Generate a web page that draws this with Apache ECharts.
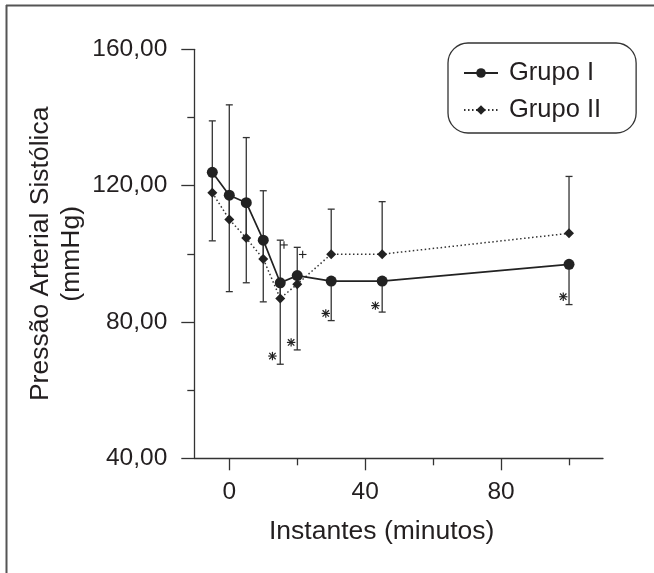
<!DOCTYPE html>
<html><head><meta charset="utf-8">
<script src="https://cdn.jsdelivr.net/npm/echarts@6/dist/echarts.min.js"></script>
<style>html,body{margin:0;padding:0;background:#fff}#c{width:654px;height:573px}</style>
</head><body><div id="c"></div>
<script>
// Instants (minutes)
const times = [-5, 0, 5, 10, 15, 20, 30, 45, 100];
// Means
const grupoI = [123.9, 117.2, 115.0, 104.0, 91.5, 93.6, 92.0, 92.0, 96.9];
const grupoII = [117.9, 110.1, 104.6, 98.5, 86.9, 91.1, 99.9, 99.9, 106.0];
// Error bar ends (Grupo I downward, Grupo II upward)
const grupoILower = [103.8, 88.9, 91.5, 85.9, 67.6, 71.8, 80.4, 82.9, 85.1];
const grupoIIUpper = [139.0, 143.7, 134.1, 118.5, 104.0, 101.9, 113.1, 115.3, 122.7];
// Significance markers
const asteriskX = [12.7, 18.2, 28.4, 43.0, 98.3];
const asteriskY = [70.0, 74.0, 82.5, 84.8, 87.4];
const plusX = [16.1, 21.6];
const plusY = [102.6, 99.8];
// Ticks
const xMajorTicks = [0, 40, 80];
const xMinorTicks = [20, 60, 100];
const yTickLabels = ['40,00', '80,00', '120,00', '160,00'];

const FONT = 'Liberation Sans, Arial, sans-serif';
const TXT = '#231f20';
const chart = echarts.init(document.getElementById('c'));

function errRender(params, api) {
  const x = api.value(0), m = api.value(1), b = api.value(2);
  const p1 = api.coord([x, m]), p2 = api.coord([x, b]);
  const hw = 3.5;
  const st = { stroke: '#333', lineWidth: 1.3 };
  return { type: 'group', children: [
    { type: 'line', shape: { x1: p1[0], y1: p1[1], x2: p2[0], y2: p2[1] }, style: st },
    { type: 'line', shape: { x1: p2[0] - hw, y1: p2[1], x2: p2[0] + hw, y2: p2[1] }, style: st }
  ]};
}
function starRender(params, api) {
  const p = api.coord([api.value(0), api.value(1)]);
  const r = 4.2, d = 3.2;
  const st = { stroke: '#222', lineWidth: 1.2 };
  const L = (x1, y1, x2, y2) => ({ type: 'line', shape: { x1: p[0] + x1, y1: p[1] + y1, x2: p[0] + x2, y2: p[1] + y2 }, style: st });
  return { type: 'group', children: [L(-r, 0, r, 0), L(0, -r, 0, r), L(-d, -d, d, d), L(-d, d, d, -d)] };
}
function plusRender(params, api) {
  const p = api.coord([api.value(0), api.value(1)]);
  const r = 3.8;
  const st = { stroke: '#222', lineWidth: 1.1 };
  const L = (x1, y1, x2, y2) => ({ type: 'line', shape: { x1: p[0] + x1, y1: p[1] + y1, x2: p[0] + x2, y2: p[1] + y2 }, style: st });
  return { type: 'group', children: [L(-r, 0, r, 0), L(0, -r, 0, r)] };
}

const yLabelMap = {40: yTickLabels[0], 80: yTickLabels[1], 120: yTickLabels[2], 160: yTickLabels[3]};

chart.setOption({
  backgroundColor: '#fff',
  animation: false,
  grid: { left: 194.3, top: 49.3, right: 51, bottom: 114.7, containLabel: false },
  xAxis: [{
    type: 'value', position: 'bottom', min: -10.3, max: 110,
    name: 'Instantes (minutos)', nameLocation: 'middle', nameGap: 60,
    nameTextStyle: { fontFamily: FONT, fontSize: 26.5, color: TXT, padding: [0, 34, 0, 0] },
    axisLine: { show: true, onZero: false, lineStyle: { color: '#333', width: 1.3 } },
    axisTick: { show: true, customValues: xMajorTicks, length: 12, lineStyle: { color: '#333', width: 1.3 } },
    axisLabel: { show: true, customValues: xMajorTicks, margin: 21, fontFamily: FONT, fontSize: 24.5, color: TXT },
    splitLine: { show: false }
  }, {
    type: 'value', position: 'bottom', min: -10.3, max: 110,
    axisLine: { show: false, onZero: false },
    axisTick: { show: true, customValues: xMinorTicks, length: 7, lineStyle: { color: '#333', width: 1.3 } },
    axisLabel: { show: false },
    splitLine: { show: false }
  }],
  yAxis: {
    type: 'value', min: 40, max: 160, interval: 40,
    name: 'Pressão Arterial Sistólica\n(mmHg)', nameLocation: 'middle', nameGap: 107, nameRotate: 90,
    nameMoveOverlap: false,
    nameTextStyle: { fontFamily: FONT, fontSize: 26.5, color: TXT, lineHeight: 31, align: 'center' },
    axisLine: { show: true, onZero: false, lineStyle: { color: '#333', width: 1.3 } },
    axisTick: { show: true, length: 13, lineStyle: { color: '#333', width: 1.3 } },
    minorTick: { show: true, splitNumber: 2, length: 7, lineStyle: { color: '#333', width: 1.3 } },
    axisLabel: { margin: 27, fontFamily: FONT, fontSize: 24.5, color: TXT, formatter: v => yLabelMap[v] },
    splitLine: { show: false }
  },
  legend: {
    orient: 'vertical', left: 448, top: 43, data: ['Grupo I', 'Grupo II'],
    padding: [17, 35, 10, 15], itemGap: 11, itemWidth: 34, itemHeight: 12,
    borderColor: '#333', borderWidth: 1.3, borderRadius: 20,
    textStyle: { fontFamily: FONT, fontSize: 25.5, color: TXT, lineHeight: 26, padding: [0, 0, 0, 6] }
  },
  graphic: [
    { type: 'line', shape: { x1: 6, y1: 5.5, x2: 654, y2: 5.5 }, style: { stroke: '#555', lineWidth: 2 } },
    { type: 'line', shape: { x1: 6.5, y1: 5, x2: 6.5, y2: 573 }, style: { stroke: '#555', lineWidth: 2 } }
  ],
  series: [
    { name: 'dpI', type: 'custom', z: 1, renderItem: errRender,
      data: times.map((t, i) => [t, grupoI[i], grupoILower[i]]) },
    { name: 'dpII', type: 'custom', z: 1, renderItem: errRender,
      data: times.map((t, i) => [t, grupoII[i], grupoIIUpper[i]]) },
    { name: 'Grupo II', type: 'line', z: 3, data: times.map((t, i) => [t, grupoII[i]]),
      symbol: 'diamond', symbolSize: 10, itemStyle: { color: '#222' },
      lineStyle: { color: '#333', width: 1.5, type: [1.5, 2.5] } },
    { name: 'Grupo I', type: 'line', z: 4, data: times.map((t, i) => [t, grupoI[i]]),
      symbol: 'circle', symbolSize: 11, itemStyle: { color: '#222' },
      lineStyle: { color: '#222', width: 1.7 } },
    { name: 'ast', type: 'custom', z: 5, renderItem: starRender,
      data: asteriskX.map((x, i) => [x, asteriskY[i]]) },
    { name: 'plus', type: 'custom', z: 5, renderItem: plusRender,
      data: plusX.map((x, i) => [x, plusY[i]]) }
  ]
});
</script>
</body></html>
